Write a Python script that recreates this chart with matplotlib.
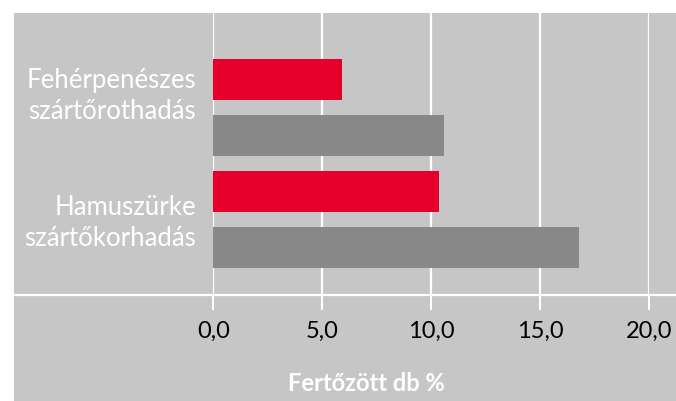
import matplotlib
matplotlib.use("Agg")
import matplotlib.pyplot as plt
from matplotlib.patches import Rectangle
from matplotlib.lines import Line2D
import matplotlib.transforms as mtransforms

# ---- data ----
categories = ["Fehérpenészes\nszártőrothadás", "Hamuszürke\nszártőkorhadás"]
red_values = [5.9, 10.35]
gray_values = [10.6, 16.8]
x_ticks = [0, 5, 10, 15, 20]
x_tick_labels = ["0,0", "5,0", "10,0", "15,0", "20,0"]
x_title = "Fertőzött db %"

# ---- style ----
BG = "#c6c6c6"
RED = "#e4002b"
GRAY = "#888888"
FONT = ["Lato", "DejaVu Sans"]
plt.rcParams["font.family"] = FONT

W, H = 676, 401
fig = plt.figure(figsize=(W / 100, H / 100), dpi=100, facecolor="white")

def fx(px):
    return px / W

def fy(py):
    return (H - py) / H

# gray panel
fig.patches.append(Rectangle((fx(14), 0), 1 - fx(14), fy(13), transform=fig.transFigure,
                             facecolor=BG, edgecolor="none", zorder=-5))

ax_left, ax_right, ax_top, ax_bottom = 213.3, 648.7, 13, 295
ax = fig.add_axes([fx(ax_left), fy(ax_bottom), fx(ax_right - ax_left), fy(ax_top) - fy(ax_bottom)])
ax.set_facecolor("none")
ax.set_zorder(1)

pos = list(range(len(categories)))
h = 0.366
ax.barh([p - 0.25 for p in pos], red_values, height=h, color=RED, zorder=3)
ax.barh([p + 0.25 for p in pos], gray_values, height=h, color=GRAY, zorder=3)

ax.set_xlim(0, 20)
ax.set_ylim(1.670, -0.848)
ax.set_xticks(x_ticks)
ax.set_xticklabels(x_tick_labels, fontsize=17)
ax.set_yticks([])
for s in ax.spines.values():
    s.set_visible(False)
ax.grid(axis="x", color="white", linewidth=1.6, zorder=1)
ax.set_axisbelow(True)
ax.tick_params(axis="x", length=10.8, width=1.5, color="white", labelcolor="black", pad=8)

# horizontal separator line
fig.add_artist(Line2D([fx(14), 1], [fy(295), fy(295)], transform=fig.transFigure,
                      color="white", linewidth=1.6, zorder=2))

# category labels
label_offsets = [-0.105, 0.03]
trans = mtransforms.blended_transform_factory(fig.transFigure, ax.transData)
for p, lab, off in zip(pos, categories, label_offsets):
    t = fig.text(fx(196), 0, lab, transform=trans, ha="right", va="center",
                 fontsize=18.5, color="white", linespacing=1.3, zorder=3)
    t.set_y(p + off)

fig.text(fx(366), fy(391), x_title, ha="center", va="baseline", fontsize=17,
         fontweight="bold", color="white", zorder=3)

fig.savefig("out.png", dpi=100, facecolor="white")
